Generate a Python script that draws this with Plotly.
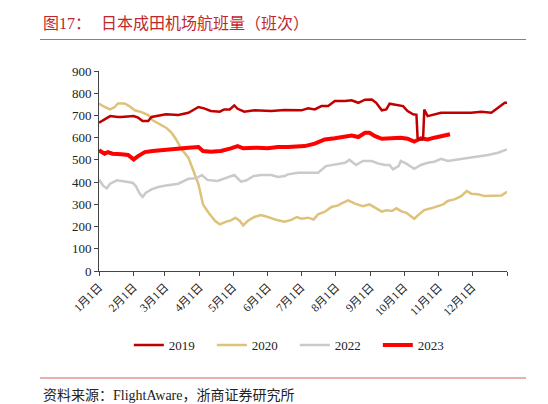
import pandas as pd
import plotly.graph_objects as go

# values: day offset from Jan 1, flights per day
days_2019 = [0, 10, 17, 20, 31, 35, 39, 44, 47, 60, 71, 80, 89, 94, 100, 108, 112, 117, 121, 124,
             130, 139, 154, 166, 181, 187, 193, 199, 205, 211, 220, 226, 232, 238, 244, 248, 253,
             257, 260, 268, 272, 276, 281, 284, 285, 286, 289, 290, 291, 294, 300, 306, 315, 324,
             333, 342, 351, 357, 363, 365]
vals_2019 = [667, 697, 693, 693, 697, 690, 675, 675, 693, 705, 702, 712, 738, 732, 720, 717, 727, 727, 745, 730,
             717, 723, 720, 724, 723, 732, 727, 742, 742, 765, 765, 768, 757, 771, 772, 757, 723,
             727, 753, 747, 742, 720, 705, 703, 600, 592, 592, 600, 727, 697, 705, 712, 712, 712,
             712, 717, 712, 735, 757, 757]

days_2020 = [0, 5, 10, 14, 17, 23, 27, 32, 38, 44, 48, 54, 60, 65, 69, 74, 80, 84, 89, 93, 98, 104,
             108, 114, 118, 122, 126, 129, 133, 139, 145, 151, 157, 160, 166, 172, 177, 181, 187, 192,
             196, 202, 208, 214, 218, 223, 229, 236, 242, 247, 253, 257, 262, 266, 271, 275, 279, 282,
             287, 291, 297, 303, 308, 312, 318, 324, 329, 333, 339, 345, 351, 360, 365]
vals_2020 = [753, 738, 727, 738, 754, 754, 742, 723, 715, 702, 678, 660, 645, 622, 592, 547, 510, 457, 390, 300, 262, 225,
             210, 222, 228, 240, 225, 205, 225, 243, 252, 243, 232, 228, 222, 230, 243, 235, 240, 232,
             255, 267, 288, 295, 307, 318, 303, 292, 300, 285, 267, 273, 270, 282, 267, 262, 247, 235,
             258, 274, 282, 292, 300, 315, 322, 337, 360, 348, 345, 337, 337, 340, 357]

days_2022 = [0, 4, 7, 10, 16, 23, 30, 33, 36, 39, 42, 47, 53, 60, 71, 80, 87, 92, 97, 106, 114, 121,
             127, 132, 138, 145, 154, 160, 166, 169, 178, 187, 196, 203, 211, 220, 224, 230, 236, 244,
             250, 256, 260, 263, 268, 270, 275, 282, 288, 294, 300, 306, 312, 321, 330, 339, 348, 357, 365]
vals_2022 = [412, 382, 372, 393, 408, 402, 397, 382, 352, 333, 352, 367, 378, 385, 393, 415, 417, 432, 410, 405, 420, 432,
             402, 408, 427, 432, 432, 423, 427, 435, 442, 442, 442, 472, 480, 487, 500, 477, 495, 495,
             483, 477, 477, 457, 472, 495, 483, 460, 477, 487, 492, 505, 495, 501, 510, 513, 522, 532, 547]

days_2023 = [0, 5, 8, 12, 20, 26, 29, 31, 35, 41, 48, 60, 71, 80, 89, 93, 100, 109, 118, 124, 129, 136,
             142, 151, 157, 160, 169, 178, 184, 193, 202, 211, 220, 226, 232, 238, 242, 247, 253, 262,
             270, 276, 282, 288, 294, 300, 306, 314]
vals_2023 = [543, 528, 535, 528, 525, 522, 510, 502, 517, 535, 540, 547, 552, 555, 558, 540, 537, 540, 552, 562, 552, 555,
             555, 552, 558, 558, 558, 558, 562, 573, 592, 597, 603, 610, 603, 622, 622, 607, 595, 600,
             600, 595, 582, 597, 592, 600, 607, 615]

month_labels = [f"{m}月1日" for m in range(1, 13)] + [""]

start = pd.Timestamp("2019-01-01")
month_ticks = pd.date_range("2019-01-01", "2020-01-01", freq="MS")


def to_dates(days):
    return [start + pd.Timedelta(days=d) for d in days]


series = [
    ("2020", days_2020, vals_2020, "#DEC27A", 2.5, 2),
    ("2022", days_2022, vals_2022, "#CACACA", 2.5, 3),
    ("2023", days_2023, vals_2023, "#FF0000", 4, 4),
    ("2019", days_2019, vals_2019, "#C00000", 2.5, 1),
]

fig = go.Figure()
for name, d, v, colour, width, rank in series:
    fig.add_trace(go.Scatter(
        x=to_dates(d), y=v, name=name, mode="lines",
        line=dict(color=colour, width=width),
        legendrank=rank,
    ))

serif = "Liberation Serif, Noto Sans CJK SC"

fig.update_layout(
    width=548, height=404,
    margin=dict(l=91, r=49, t=63, b=141),
    paper_bgcolor="white", plot_bgcolor="white",
    font=dict(family=serif, size=12, color="#222"),
    showlegend=True,
    legend=dict(
        orientation="h", x=0.48, xanchor="center", y=-0.37, yanchor="middle",
        font=dict(size=13), entrywidth=38, entrywidthmode="pixels",
        traceorder="normal",
    ),
)

fig.update_xaxes(
    type="date", range=[start, pd.Timestamp("2020-01-01")],
    tickvals=list(month_ticks), ticktext=month_labels, tickangle=-45,
    showline=True, linecolor="#444", linewidth=1,
    ticks="outside", ticklen=4, tickcolor="#444",
    showgrid=False, zeroline=False, tickfont=dict(size=11.5),
)
fig.update_yaxes(
    range=[0, 900], dtick=100,
    showline=True, linecolor="#444", linewidth=1,
    ticks="outside", ticklen=4, tickcolor="#444",
    showgrid=False, zeroline=False, tickfont=dict(size=13),
)


def px_x(p):
    return (p - 91) / 408


def px_y(p):
    return (263 - p) / 200


title_red = "#C0282D"
fig.add_annotation(text="图17：", x=px_x(33), y=px_y(15), xref="paper", yref="paper",
                   xanchor="left", yanchor="middle", showarrow=False,
                   font=dict(size=16, color=title_red, family=serif))
fig.add_annotation(text="日本成田机场航班量（班次）", x=px_x(91), y=px_y(15), xref="paper", yref="paper",
                   xanchor="left", yanchor="middle", showarrow=False,
                   font=dict(size=16, color=title_red, family=serif))
fig.add_annotation(text="资料来源：FlightAware，浙商证券研究所", x=px_x(33), y=px_y(387),
                   xref="paper", yref="paper", xanchor="left", yanchor="middle", showarrow=False,
                   font=dict(size=14, color="#222", family=serif))

for py in (31.5, 370):
    fig.add_shape(type="line", xref="paper", yref="paper",
                  x0=px_x(32), x1=px_x(518), y0=px_y(py), y1=px_y(py),
                  line=dict(color="#D0625F", width=1))

fig.write_html("out.html")
